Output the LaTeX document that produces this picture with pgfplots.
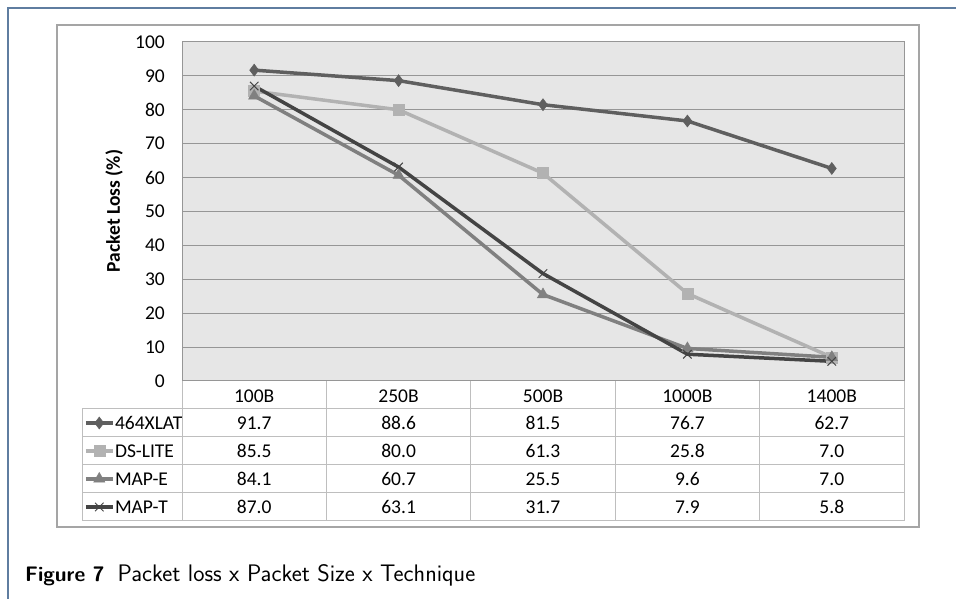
\documentclass[border=0pt]{standalone}
\usepackage{fontspec}
\setmainfont{Carlito}
\usepackage{pgfplots}
\usepackage{pgfplotstable}
\pgfplotsset{compat=1.18}

\definecolor{frameblue}{RGB}{95,125,160}
\definecolor{boxgray}{RGB}{165,165,165}
\definecolor{plotbg}{RGB}{230,230,230}
\definecolor{gridgray}{RGB}{150,150,150}
\definecolor{tablegray}{RGB}{190,190,190}
\definecolor{cXLAT}{RGB}{95,95,95}
\definecolor{cDSLITE}{RGB}{178,178,178}
\definecolor{cMAPE}{RGB}{128,128,128}
\definecolor{cMAPT}{RGB}{68,68,68}

% packet loss (%) per packet size and technique
\pgfplotstableread{
x cat   v464 dslite mape mapt
0 100B  91.7 85.5   84.1 87.0
1 250B  88.6 80.0   60.7 63.1
2 500B  81.5 61.3   25.5 31.7
3 1000B 76.7 25.8   9.6  7.9
4 1400B 62.7 7.0    7.0  5.8
}\datatable

\newcommand{\chartfont}{\fontsize{19.5}{21}\selectfont}

\begin{document}
\begin{tikzpicture}
\begin{scope}[x=1pt,y=1pt]
\path[use as bounding box] (0,0) rectangle (956,599);
% page frame
\draw[frameblue, line width=2pt] (8,0) -- (8,591) -- (956,591);
% chart area
\draw[boxgray, line width=1.3pt, fill=white] (57,72) rectangle (919,574);
\end{scope}

\begin{axis}[
  at={(182pt,218pt)}, anchor=south west,
  scale only axis, width=722pt, height=339pt,
  xmin=-0.5, xmax=4.5, ymin=0, ymax=100,
  xtick=\empty, ytick={0,10,...,100},
  ymajorgrids, grid style={gridgray, line width=1pt},
  axis background/.style={fill=plotbg},
  axis line style={gridgray, line width=1pt},
  major tick length=0pt,
  /pgf/number format/assume math mode=true,
  yticklabel style={font=\chartfont, anchor=east, inner sep=0pt, xshift=-17pt},
  clip=false,
  legend cell align=left,
  legend style={at={(-0.1357,-0.0826)}, anchor=north west, draw=none, fill=none,
    inner sep=0pt, outer sep=0pt, row sep=0pt, column sep=0pt, font=\chartfont,
    nodes={inner xsep=0.5pt, inner ysep=0pt, text height=21pt, text depth=7pt}},
  legend image code/.code={\draw[mark repeat=2, mark phase=2]
    plot coordinates {(0pt,0pt) (13.5pt,0pt) (27pt,0pt)};},
]
\addplot[cXLAT, line width=3.5pt, mark=diamond*, mark size=6pt,
  mark options={solid, fill=cXLAT, line width=0.5pt}] table[x=x, y=v464] {\datatable};
\addlegendentry{464XLAT}
\addplot[cDSLITE, line width=3.5pt, mark=square*, mark size=5.5pt,
  mark options={solid, fill=cDSLITE, line width=0.5pt}] table[x=x, y=dslite] {\datatable};
\addlegendentry{DS-LITE}
\addplot[cMAPE, line width=3.5pt, mark=triangle*, mark size=6.5pt,
  mark options={solid, fill=cMAPE, line width=0.5pt}] table[x=x, y=mape] {\datatable};
\addlegendentry{MAP-E}
\addplot[cMAPT, line width=3.5pt, mark=x, mark size=6pt,
  mark options={solid, line width=1pt}] table[x=x, y=mapt] {\datatable};
\addlegendentry{MAP-T}
\end{axis}

\begin{scope}[x=1pt,y=1pt]
% data table under the plot
\foreach \k in {0,...,5}
  \draw[tablegray, line width=1pt] ({182+144.4*\k},218) -- ({182+144.4*\k},78);
\foreach \r in {1,...,5}
  \draw[tablegray, line width=1pt] (82,{218-28*\r}) -- (904,{218-28*\r});
\draw[tablegray, line width=1pt] (82,190) -- (82,78);

\foreach \i in {0,...,4}{
  \pgfplotstablegetelem{\i}{cat}\of\datatable
  \node[anchor=base, inner sep=0pt, font=\chartfont] at ({182+144.4*(\i+0.5)},196) {\pgfplotsretval};
}
\foreach \col [count=\r] in {v464,dslite,mape,mapt}{
  \foreach \i in {0,...,4}{
    \pgfplotstablegetelem{\i}{\col}\of\datatable
    \node[anchor=base, inner sep=0pt, font=\chartfont] at ({182+144.4*(\i+0.5)},{218-28*\r-21}) {\pgfplotsretval};
  }
}

% axis title
\node[rotate=90, inner sep=0pt, font=\bfseries\chartfont] at (114,388) {Packet Loss (\%)};

% caption
\node[anchor=base west, inner sep=0pt, font=\sffamily\fontsize{23.9}{26}\selectfont]
  at (25,17) {{\bfseries\fontsize{21}{26}\selectfont Figure 7}\hspace{13pt}Packet loss x Packet Size x Technique};
\end{scope}
\end{tikzpicture}
\end{document}
